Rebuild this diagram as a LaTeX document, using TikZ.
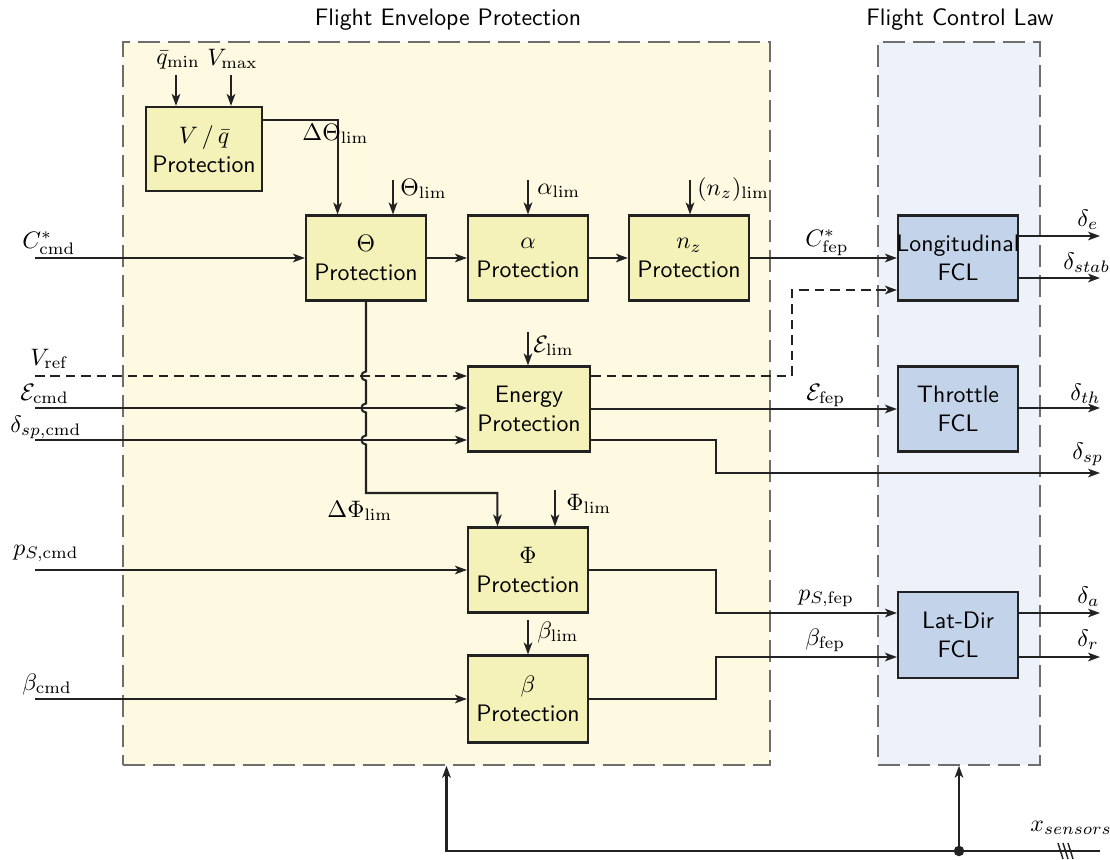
\documentclass[tikz,border=0pt]{standalone}
\usetikzlibrary{arrows.meta,calc}
\definecolor{fepbg}{HTML}{FEFAE2}
\definecolor{fclbg}{HTML}{EDF2FA}
\definecolor{boxy}{HTML}{F4F2B9}
\definecolor{boxb}{HTML}{C3D4EA}
\definecolor{linec}{HTML}{222222}
\definecolor{framec}{HTML}{6E6E6E}
\begin{document}
\begin{tikzpicture}[x=0.42pt,y=-0.42pt,font=\sffamily,
  frame/.style={draw=framec,line width=0.6pt,dash pattern=on 9.2pt off 3.4pt,inner sep=0pt,minimum height=303.7pt},
  pbox/.style={draw=linec,fill=boxy,line width=0.9pt,minimum width=50.4pt,minimum height=35.7pt,inner sep=0pt,align=center},
  fbox/.style={pbox,fill=boxb},
  conn/.style={draw=linec,line width=0.85pt},
  arr/.style={conn,-{Stealth[length=5pt,width=3.6pt,inset=1.3pt]}},
  dsh/.style={dash pattern=on 4pt off 2.5pt},
  lbl/.style={inner sep=0pt,anchor=base west}]
\useasboundingbox (0,0) rectangle (1110,860);
% frames
\node[frame,fill=fepbg,minimum width=271.7pt] (fep) at (446.5,403.5) {};
\node[frame,fill=fclbg,minimum width=68pt] (fcl) at (959,403.5) {};
\node at (448,20) {Flight Envelope Protection};
\node at (960,20) {Flight Control Law};
% boxes
\node[pbox,minimum width=48.7pt,minimum height=35.3pt] (vq) at (204,149) {$V\,/\,\bar q$\\Protection};
\node[pbox] (th) at (366,258) {$\Theta$\\Protection};
\node[pbox] (al) at (528,258) {$\alpha$\\Protection};
\node[pbox] (nz) at (689,258) {$n_z$\\Protection};
\node[pbox,minimum width=51.2pt] (en) at (529,409) {Energy\\Protection};
\node[pbox] (ph) at (528,570) {$\Phi$\\Protection};
\node[pbox,minimum height=36.5pt] (be) at (528,699) {$\beta$\\Protection};
\node[fbox] (lon) at (958,258) {};
\node[align=center,inner sep=0pt] (lontxt) at (lon) {Longitudinal\\FCL};
\node[fbox] (tt) at (958,409) {Throttle\\FCL};
\node[fbox,minimum height=36pt] (ld) at (958,635) {Lat-Dir\\FCL};
% V/q inputs
\coordinate (qmin) at (176,75);
\coordinate (vmax) at (231,75);
\draw[arr] (qmin) -- (qmin |- vq.north);
\draw[arr] (vmax) -- (vmax |- vq.north);
\node[lbl] at (156,64) {$\bar q_{\min}$};
\node[lbl] at (207,65) {$V_{\max}$};
% Delta Theta
\draw[arr] (vq.east |- 0,120) -| ($(th.north west)!0.267!(th.north east)$);
\node[lbl] at (302,140) {$\Delta\Theta_{\lim}$};
% limits
\coordinate (thl) at (393,180);
\draw[arr] (thl) -- (thl |- th.north);
\node[lbl] at (400,195) {$\Theta_{\lim}$};
\coordinate (all) at (528,180);
\draw[arr] (all) -- (all |- al.north);
\node[lbl] at (537,194) {$\alpha_{\lim}$};
\coordinate (nzl) at (690,180);
\draw[arr] (nzl) -- (nzl |- nz.north);
\node[lbl] at (697,195) {$(n_z)_{\lim}$};
\coordinate (enl) at (528,332);
\draw[arr] (enl) -- (enl |- en.north);
\node[lbl] at (533,352) {$\mathcal{E}_{\lim}$};
\coordinate (phl) at (555,490);
\draw[arr] (phl) -- (phl |- ph.north);
\node[lbl] at (566,510) {$\Phi_{\lim}$};
\coordinate (bel) at (528,620);
\draw[arr] (bel) -- (bel |- be.north);
\node[lbl] at (537,638) {$\beta_{\lim}$};
% inputs
\coordinate (ccmd) at (35,258);
\coordinate (vref) at (35,376);
\coordinate (ecmd) at (35,408);
\coordinate (dspc) at (35,440);
\coordinate (pscmd) at (35,570);
\coordinate (bcmd) at (35,699);
\draw[arr] (ccmd) -- (ccmd -| th.west);
\draw[arr,dsh] (vref) -- (vref -| en.west);
\draw[arr] (ecmd) -- (ecmd -| en.west);
\draw[arr] (dspc) -- (dspc -| en.west);
\draw[arr] (pscmd) -- (pscmd -| ph.west);
\draw[arr] (bcmd) -- (bcmd -| be.west);
\node[lbl] at (22,248) {$C^*_{\mathrm{cmd}}$};
\node[lbl] at (30,365) {$V_{\mathrm{ref}}$};
\node[lbl] at (20,400) {$\mathcal{E}_{\mathrm{cmd}}$};
\node[lbl] at (10,432) {$\delta_{sp,\mathrm{cmd}}$};
\node[lbl] at (13,555) {$p_{S,\mathrm{cmd}}$};
\node[lbl] at (22,690) {$\beta_{\mathrm{cmd}}$};
% chain
\draw[arr] (th) -- (al);
\draw[arr] (al) -- (nz);
\draw[arr] (nz) -- (lon);
\node[lbl] at (805,246) {$C^*_{\mathrm{fep}}$};
% Delta Phi with jumps
\draw[arr] (th.south) -- (366,371.5) .. controls (360,371.5) and (360,380.5) .. (366,380.5)
  -- (366,403.5) .. controls (360,403.5) and (360,412.5) .. (366,412.5)
  -- (366,435.5) .. controls (360,435.5) and (360,444.5) .. (366,444.5)
  -- (366,493) -| ($(ph.north west)!0.25!(ph.north east)$);
\node[lbl] at (327,517) {$\Delta\Phi_{\lim}$};
% energy outputs
\coordinate (vk) at (792,290);
\draw[arr,dsh] (vref -| en.east) -| (vk) -- (vk -| lon.west);
\draw[arr] (en) -- (tt);
\node[lbl] at (806,400) {$\mathcal{E}_{\mathrm{fep}}$};
\coordinate (dspo) at (1100,473);
\draw[arr] (dspc -| en.east) -| (716,473) -- (dspo);
\node[lbl] at (1072,459) {$\delta_{sp}$};
% lat-dir
\coordinate (pfep) at (716,613);
\coordinate (bfep) at (716,657);
\draw[arr] (ph.east) -| (pfep) -- (pfep -| ld.west);
\draw[arr] (be.east) -| (bfep) -- (bfep -| ld.west);
\node[lbl] at (798,600) {$p_{S,\mathrm{fep}}$};
\node[lbl] at (805,645) {$\beta_{\mathrm{fep}}$};
% FCL outputs
\coordinate (oe) at (1100,236);
\coordinate (os) at (1100,278);
\coordinate (oth) at (1100,408);
\coordinate (oa) at (1100,613);
\coordinate (or) at (1100,657);
\draw[arr] (oe -| lon.east) -- (oe);
\draw[arr] (os -| lon.east) -- (os);
\draw[arr] (oth -| tt.east) -- (oth);
\draw[arr] (oa -| ld.east) -- (oa);
\draw[arr] (or -| ld.east) -- (or);
\node[lbl] at (1077,226) {$\delta_e$};
\node[lbl] at (1063,269) {$\delta_{stab}$};
\node[lbl] at (1070,400) {$\delta_{th}$};
\node[lbl] at (1077,603) {$\delta_a$};
\node[lbl] at (1077,646) {$\delta_r$};
% sensors
\coordinate (sn) at (1100,851);
\draw[arr] (sn) -- (sn -| fep.south) -- (fep.south);
\draw[arr] (sn -| fcl.south) -- (fcl.south);
\fill[linec] (sn -| fcl.south) circle (2.2pt);
\node[lbl] at (1030,831) {$x_{sensors}$};
\foreach \xs in {1058,1063,1068} \draw[conn,line width=0.6pt] (\xs,843) -- (\xs+5,859);
\end{tikzpicture}
\end{document}
